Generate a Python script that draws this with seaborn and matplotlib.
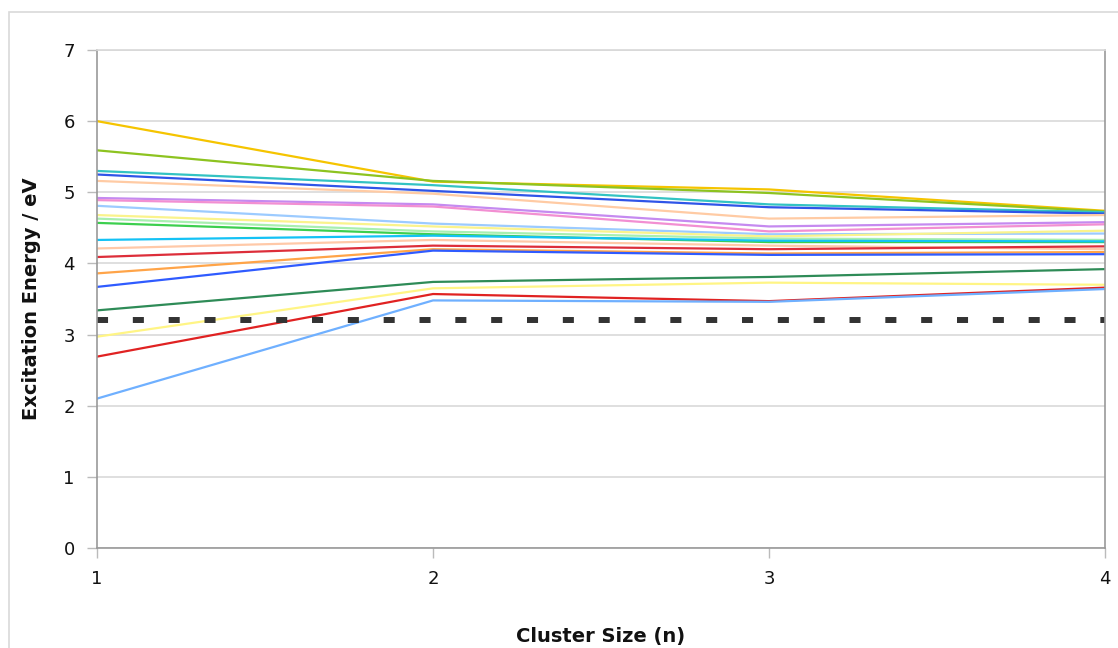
import matplotlib
matplotlib.use("Agg")
import matplotlib.pyplot as plt
from matplotlib.patches import Rectangle
import numpy as np
import pandas as pd
import seaborn as sns

# Cluster sizes on the x axis
cluster_size = [1, 2, 3, 4]

# Excitation energies (eV) of each excited state versus cluster size
state_energies = {
    "S01": [6.00, 5.15, 5.04, 4.74],
    "S02": [5.59, 5.16, 4.99, 4.73],
    "S03": [5.30, 5.10, 4.83, 4.72],
    "S04": [5.25, 5.02, 4.79, 4.70],
    "S05": [5.16, 4.98, 4.63, 4.68],
    "S06": [4.92, 4.83, 4.52, 4.58],
    "S07": [4.89, 4.80, 4.45, 4.55],
    "S08": [4.81, 4.56, 4.41, 4.42],
    "S09": [4.68, 4.52, 4.38, 4.46],
    "S10": [4.63, 4.45, 4.35, 4.33],
    "S11": [4.57, 4.41, 4.30, 4.30],
    "S12": [4.33, 4.39, 4.32, 4.31],
    "S13": [4.21, 4.33, 4.25, 4.20],
    "S14": [4.09, 4.25, 4.20, 4.24],
    "S15": [3.86, 4.20, 4.14, 4.16],
    "S16": [3.67, 4.18, 4.12, 4.13],
    "S17": [3.34, 3.74, 3.81, 3.92],
    "S18": [2.97, 3.65, 3.73, 3.70],
    "S19": [2.69, 3.57, 3.47, 3.66],
    "S20": [2.10, 3.48, 3.46, 3.64],
}

# Reference energy drawn as a dashed line
reference_energy = [3.20, 3.20, 3.20, 3.20]

line_colors = [
    "#F5C400", "#8DC320", "#33C3C3", "#2F55E8", "#FFCBA4",
    "#C58AF0", "#F28FD2", "#9CCBFF", "#FAF38C", "#A8EFB0",
    "#3CCF4E", "#14C2F5", "#FFC9A8", "#DD2E3A", "#FFA448",
    "#2F5BFF", "#2E8B57", "#FFF585", "#E02222", "#6FB0FF",
]

frames = []
for name, vals in state_energies.items():
    frames.append(pd.DataFrame({"n": cluster_size, "energy": vals, "state": name}))
df = pd.concat(frames, ignore_index=True)
ref_df = pd.DataFrame({"n": cluster_size, "energy": reference_energy})

sns.set_theme(style="white")
plt.rcParams["font.family"] = ["DejaVu Sans"]

fig = plt.figure(figsize=(11.18, 6.48), dpi=100)
ax = fig.add_axes([97 / 1118, 1 - 548 / 648, (1105 - 97) / 1118, (548 - 50) / 648])

# Outer chart frame
fig.patches.append(Rectangle((9 / 1118, -0.05), 1.2, 1 - 12 / 648 + 0.05,
                             transform=fig.transFigure, fill=False,
                             edgecolor="#D9D9D9", linewidth=1.2))

sns.lineplot(data=df, x="n", y="energy", hue="state", palette=line_colors,
             linewidth=1.6, legend=False, ax=ax, sort=False, estimator=None)
sns.lineplot(data=ref_df, x="n", y="energy", color="#333333", linewidth=4.3,
             ax=ax, legend=False)
ax.lines[-1].set_dashes([1.85, 4.15])

ax.set_xlim(1, 4)
ax.set_ylim(0, 7)
ax.set_xticks(cluster_size)
ax.set_xticklabels([str(v) for v in cluster_size])
ax.set_yticks(range(0, 8))
ax.yaxis.grid(True, color="#D9D9D9", linewidth=1.2)
ax.set_axisbelow(True)

for side in ["left", "bottom", "right"]:
    ax.spines[side].set_color("#999999")
    ax.spines[side].set_linewidth(1.2)
ax.spines["top"].set_color("#D9D9D9")

ax.tick_params(axis="both", which="both", direction="out", length=7, width=1,
               color="#BBBBBB", labelsize=13, labelcolor="#111111", pad=9,
               bottom=True, left=True)

ax.set_xlabel("Cluster Size (n)", fontsize=14, fontweight="bold",
              color="#111111", labelpad=28)
ax.set_ylabel("Excitation Energy / eV", fontsize=14, fontweight="bold",
              color="#111111", labelpad=16)

fig.savefig("out.png", dpi=100, facecolor="white")
